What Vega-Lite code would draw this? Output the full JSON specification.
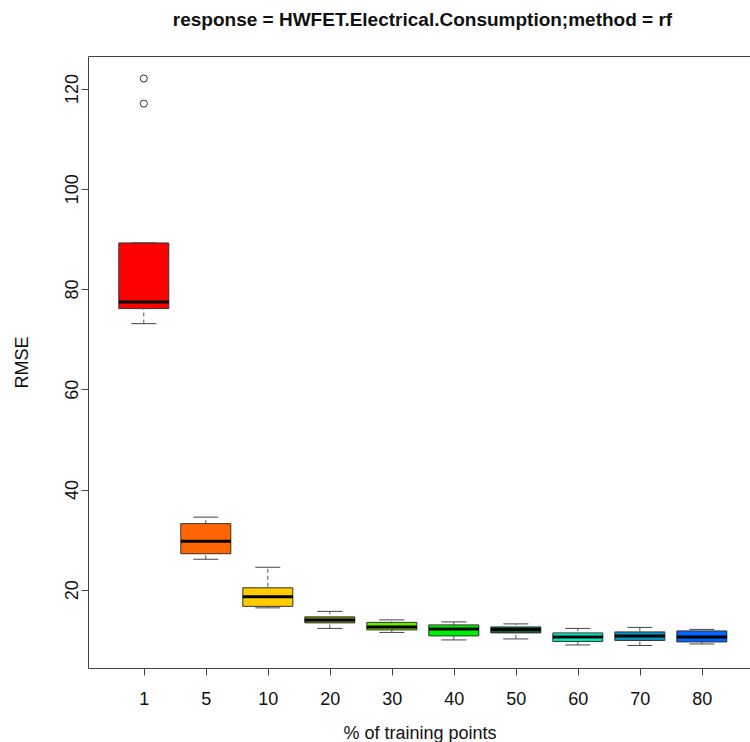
{
  "$schema": "https://vega.github.io/schema/vega-lite/v6.json",
  "autosize": {"type": "none"},
  "padding": {"left": 88, "top": 56, "right": 0, "bottom": 74},
  "width": 663,
  "height": 612,
  "background": "white",
  "config": {
    "font": "Liberation Sans",
    "view": {"stroke": "#444", "strokeWidth": 1},
    "axis": {"grid": false, "domain": false, "tickColor": "#444", "tickSize": 7, "labelFontSize": 18, "titleFontSize": 18, "titleFontWeight": "normal", "labelColor": "#111", "titleColor": "#111"}
  },
  "title": {"text": "response = HWFET.Electrical.Consumption;method = rf", "fontSize": 19, "fontWeight": "bold", "anchor": "middle", "offset": 26, "dx": 3, "color": "#111"},
  "datasets": {
    "boxes": [
      {"idx": 1, "pct": "1", "lo": 73.1, "q1": 76.1, "med": 77.4, "q3": 89.2, "hi": 89.2},
      {"idx": 2, "pct": "5", "lo": 26.1, "q1": 27.2, "med": 29.7, "q3": 33.2, "hi": 34.5},
      {"idx": 3, "pct": "10", "lo": 16.4, "q1": 16.7, "med": 18.6, "q3": 20.4, "hi": 24.5},
      {"idx": 4, "pct": "20", "lo": 12.3, "q1": 13.4, "med": 14.0, "q3": 14.6, "hi": 15.7},
      {"idx": 5, "pct": "30", "lo": 11.5, "q1": 12.0, "med": 12.6, "q3": 13.5, "hi": 14.0},
      {"idx": 6, "pct": "40", "lo": 10.0, "q1": 10.8, "med": 12.2, "q3": 13.0, "hi": 13.6},
      {"idx": 7, "pct": "50", "lo": 10.2, "q1": 11.4, "med": 12.1, "q3": 12.6, "hi": 13.2},
      {"idx": 8, "pct": "60", "lo": 9.0, "q1": 9.7, "med": 10.6, "q3": 11.4, "hi": 12.3},
      {"idx": 9, "pct": "70", "lo": 8.9, "q1": 9.9, "med": 10.8, "q3": 11.6, "hi": 12.5},
      {"idx": 10, "pct": "80", "lo": 9.2, "q1": 9.6, "med": 10.6, "q3": 11.8, "hi": 12.1}
    ],
    "outliers": [
      {"idx": 1, "pct": "1", "rmse": 117.0},
      {"idx": 1, "pct": "1", "rmse": 122.0}
    ]
  },
  "data": {"name": "boxes"},
  "encoding": {
    "x": {
      "field": "idx", "type": "quantitative",
      "scale": {"domain": [0.1, 10.793], "nice": false, "zero": false, "padding": 0},
      "axis": {"values": [1, 2, 3, 4, 5, 6, 7, 8, 9, 10], "labelExpr": "['1','5','10','20','30','40','50','60','70','80'][datum.value - 1]", "title": "% of training points", "labelPadding": 15, "titlePadding": 16, "labelFlush": false}
    }
  },
  "layer": [
    {
      "mark": {"type": "rule", "strokeDash": [4, 3], "color": "#555", "strokeWidth": 1},
      "encoding": {
        "y": {"field": "lo", "type": "quantitative",
          "scale": {"domain": [4.4, 126.5], "nice": false, "zero": false, "padding": 0},
          "axis": {"values": [20, 40, 60, 80, 100, 120], "title": "RMSE", "labelAngle": -90, "labelAlign": "center", "labelBaseline": "bottom", "labelPadding": 0, "titlePadding": 32}},
        "y2": {"field": "hi"}
      }
    },
    {
      "mark": {"type": "tick", "orient": "horizontal", "size": 25, "thickness": 1, "color": "#444", "opacity": 1},
      "encoding": {"y": {"field": "lo", "type": "quantitative"}}
    },
    {
      "mark": {"type": "tick", "orient": "horizontal", "size": 25, "thickness": 1, "color": "#444", "opacity": 1},
      "encoding": {"y": {"field": "hi", "type": "quantitative"}}
    },
    {
      "mark": {"type": "bar", "size": 50, "stroke": "#333", "strokeWidth": 1},
      "encoding": {
        "y": {"field": "q1", "type": "quantitative"},
        "y2": {"field": "q3"},
        "fill": {"field": "pct", "type": "nominal", "legend": null,
          "scale": {"domain": ["1", "5", "10", "20", "30", "40", "50", "60", "70", "80"],
                    "range": ["#FF0000", "#FF6600", "#FFCC00", "#8E9E00", "#66EE00", "#00EE00", "#006633", "#00EEC0", "#0099C0", "#0066FF"]}}
      }
    },
    {
      "mark": {"type": "tick", "orient": "horizontal", "size": 50, "thickness": 3, "color": "#000", "opacity": 1},
      "encoding": {"y": {"field": "med", "type": "quantitative"}}
    },
    {
      "data": {"name": "outliers"},
      "mark": {"type": "point", "shape": "circle", "filled": false, "size": 50, "stroke": "#333", "strokeWidth": 1, "opacity": 1},
      "encoding": {"y": {"field": "rmse", "type": "quantitative"}}
    }
  ]
}
